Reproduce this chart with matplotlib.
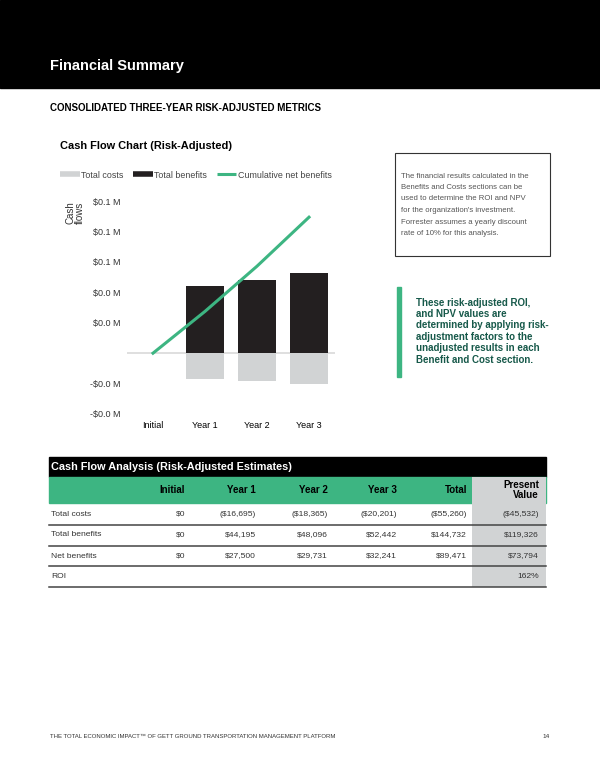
import matplotlib
matplotlib.use("Agg")
import matplotlib.pyplot as plt
from matplotlib.patches import Rectangle
from matplotlib.lines import Line2D
from matplotlib.ticker import FuncFormatter

plt.rcParams['font.family'] = ['Liberation Sans', 'DejaVu Sans']

# data
categories = ["Initial", "Year 1", "Year 2", "Year 3"]
total_costs = [0, -16695, -18365, -20201]
total_benefits = [0, 44195, 48096, 52442]
net_benefits = [0, 27500, 29731, 32241]
cumulative_net = [0, 27500, 57231, 89472]
totals = [-55260, 144732, 89471]
present_values = [-45532, 119326, 73794]
roi = "162%"
row_names = ["Total costs", "Total benefits", "Net benefits"]
col_names = ["Initial", "Year 1", "Year 2", "Year 3", "Total", "Present\nValue"]

GREEN = "#3db582"
BLACK = "#231f20"
GRAY = "#d1d3d4"


def money(v):
    if v < 0:
        return "(${:,})".format(-v)
    return "${:,}".format(v)


fig = plt.figure(figsize=(6, 7.76), dpi=100)

# page layer in pixel coordinates (y down)
page = fig.add_axes([0, 0, 1, 1])
page.set_xlim(0, 600)
page.set_ylim(776, 0)
page.axis("off")

page.add_patch(Rectangle((0, 0), 600, 88, color="black"))
page.text(50, 66, "Financial Summary", color="white", fontsize=10.5,
          fontweight="bold", va="center")
page.text(50, 108, "CONSOLIDATED THREE-YEAR RISK-ADJUSTED METRICS",
          fontsize=7.0, fontweight="bold", va="center")
page.text(60, 146, "Cash Flow Chart (Risk-Adjusted)", fontsize=7.9,
          fontweight="bold", va="center")

# note box
page.add_patch(Rectangle((395, 153), 155, 103, fill=False, ec="#333333", lw=0.8))
page.text(401, 172.5, "The financial results calculated in the\n"
          "Benefits and Costs sections can be\n"
          "used to determine the ROI and NPV\n"
          "for the organization's investment.\n"
          "Forrester assumes a yearly discount\n"
          "rate of 10% for this analysis.",
          fontsize=5.6, color="#555555", va="top", linespacing=1.9)

# callout
page.add_patch(Rectangle((397, 287), 3.5, 90, color=GREEN))
page.text(416, 297.5, "These risk-adjusted ROI,\n"
          "and NPV values are\n"
          "determined by applying risk-\n"
          "adjustment factors to the\n"
          "unadjusted results in each\n"
          "Benefit and Cost section.",
          fontsize=7.0, fontweight="bold", color="#17594a", va="top",
          linespacing=1.18)

page.text(75, 213, "Cash\nflows", rotation=90, fontsize=7, color="#333333",
          ha="center", va="center", multialignment="center", linespacing=0.85)

# table
L, R = 49, 546
page.add_patch(Rectangle((L, 457), R - L, 20, color="black"))
page.text(51, 467, "Cash Flow Analysis (Risk-Adjusted Estimates)", color="white",
          fontsize=7.8, fontweight="bold", va="center")
page.add_patch(Rectangle((L, 477), R - L, 26, color=GREEN))
page.add_patch(Rectangle((472, 477), R - 472, 110, color=GRAY, lw=0))
col_right = [185, 256, 328, 397, 467, 539]
for x, name in zip(col_right, col_names):
    page.text(x, 490, name, fontsize=7.0, fontweight="bold", ha="right",
              va="center", linespacing=1.05)

row_y = [514, 535, 556]
row_data = [total_costs, total_benefits, net_benefits]
for i, (name, vals) in enumerate(zip(row_names, row_data)):
    y = row_y[i]
    page.text(51, y, name, fontsize=6.1, color="#333333", va="center")
    cells = [money(v) for v in vals] + [money(totals[i]), money(present_values[i])]
    for x, s in zip(col_right, cells):
        page.text(x, y, s, fontsize=6.1, color="#333333", ha="right", va="center")
page.text(51, 577, "ROI", fontsize=6.1, color="#333333", va="center")
page.text(col_right[-1], 577, roi, fontsize=6.1, color="#333333", ha="right",
          va="center")
for y in [525, 546, 566, 587]:
    page.plot([L, R], [y, y], color="#444444", lw=1.1)

page.text(50, 737, "THE TOTAL ECONOMIC IMPACT\u2122 OF GETT GROUND TRANSPORTATION "
          "MANAGEMENT PLATFORM", fontsize=4.35, color="#333333", va="center")
page.text(550, 737, "14", fontsize=4.6, color="#333333", ha="right", va="center")

# chart
ax = fig.add_axes([127 / 600, 1 - 417 / 776, 208 / 600, (417 - 193.6) / 776])
x = list(range(len(categories)))
ax.axhline(0, color="#d9d9d9", lw=1.2, zorder=1)
ax.bar(x, total_benefits, width=0.73, color=BLACK, zorder=2)
ax.bar(x, total_costs, width=0.73, color=GRAY, zorder=2)
ax.plot(x, cumulative_net, color=GREEN, lw=2.2, zorder=3)
ax.set_xlim(-0.5, 3.5)
ax.set_ylim(-42000, 105000)
ax.set_yticks([-40000, -20000, 0, 20000, 40000, 60000, 80000, 100000])


def fmt(v, pos):
    if v == 0:
        return ""
    s = "${:.1f} M".format(abs(v) / 1e6)
    return "-" + s if v < 0 else s


ax.yaxis.set_major_formatter(FuncFormatter(fmt))
ax.set_xticks(x)
ax.set_xticklabels(categories)
ax.tick_params(axis="y", length=0, pad=5, labelsize=6.5, labelcolor="#333333")
ax.tick_params(axis="x", length=0, pad=3, labelsize=6.5)
for s in ax.spines.values():
    s.set_visible(False)
ax.patch.set_alpha(0)

handles = [Line2D([], [], color=GRAY, lw=4, solid_capstyle="butt"),
           Line2D([], [], color=BLACK, lw=4, solid_capstyle="butt"),
           Line2D([], [], color=GREEN, lw=2.2, solid_capstyle="butt")]
fig.legend(handles, ["Total costs", "Total benefits", "Cumulative net benefits"],
           loc="center left", bbox_to_anchor=(60 / 600, 1 - 175 / 776), ncol=3,
           frameon=False, fontsize=6.4, handlelength=2.2, handletextpad=0.2,
           columnspacing=1.05, borderaxespad=0, borderpad=0, labelcolor="#444444")

fig.savefig("out.png", dpi=100)
